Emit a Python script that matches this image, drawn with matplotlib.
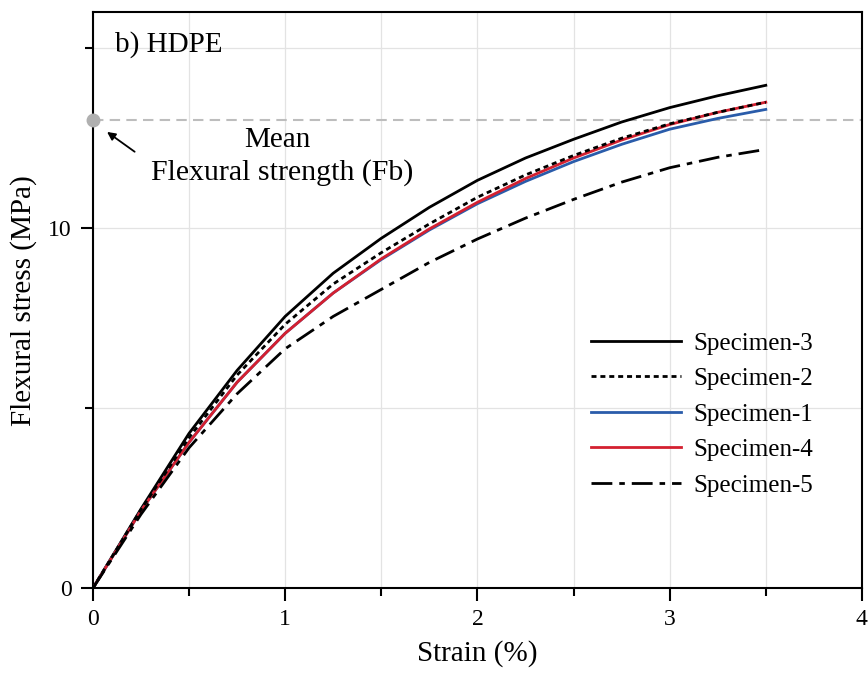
import numpy as np
import matplotlib
matplotlib.use("Agg")
import matplotlib.pyplot as plt
from matplotlib.ticker import MultipleLocator

plt.rcParams["font.family"] = ["Liberation Serif", "DejaVu Serif"]

# ---------------- data ----------------
strain = [0, 0.25, 0.5, 0.75, 1.0, 1.25, 1.5, 1.75, 2.0, 2.25, 2.5, 2.75, 3.0, 3.25, 3.5]

spec3 = [0, 2.2, 4.3, 6.05, 7.55, 8.75, 9.72, 10.58, 11.33, 11.95, 12.47, 12.95, 13.35, 13.68, 13.97]
spec2 = [0, 2.18, 4.18, 5.92, 7.33, 8.45, 9.32, 10.12, 10.86, 11.48, 12.02, 12.5, 12.9, 13.22, 13.5]
spec1 = [0, 2.15, 4.05, 5.72, 7.08, 8.2, 9.13, 9.95, 10.68, 11.3, 11.85, 12.33, 12.75, 13.05, 13.3]
spec4 = [0, 2.15, 4.05, 5.72, 7.08, 8.2, 9.15, 9.98, 10.72, 11.38, 11.95, 12.45, 12.88, 13.22, 13.5]
spec5 = [0, 2.05, 3.9, 5.4, 6.65, 7.55, 8.3, 9.05, 9.7, 10.28, 10.8, 11.28, 11.68, 11.97, 12.19]

mean_fb = 13.0

# ---------------- figure ----------------
fig = plt.figure(figsize=(8.68, 6.80), dpi=100)
ax = fig.add_axes([0.107, 0.135, 0.886, 0.847])

lw = 2.0
ax.axhline(mean_fb, color="#bdbdbd", lw=1.5, linestyle=(0, (5, 3)), zorder=1)
ax.plot([0], [mean_fb], "o", color="#b0b0b0", ms=9, clip_on=False, zorder=5)

ax.plot(strain, spec3, color="black", lw=lw, label="Specimen-3", zorder=3)
ax.plot(strain, spec2, color="black", lw=lw, linestyle=(0, (1.8, 1.4)),
        label="Specimen-2", zorder=4)
ax.plot(strain, spec1, color="#2a5caa", lw=lw, label="Specimen-1", zorder=3)
ax.plot(strain, spec4, color="#d42030", lw=lw, label="Specimen-4", zorder=3)
ax.plot(strain, spec5, color="black", lw=lw, linestyle=(0, (7.5, 2.5, 2, 2.5)),
        label="Specimen-5", zorder=3)

ax.set_xlim(0, 4)
ax.set_ylim(0, 16)
ax.xaxis.set_major_locator(MultipleLocator(1))
ax.xaxis.set_minor_locator(MultipleLocator(0.5))
ax.yaxis.set_major_locator(MultipleLocator(10))
ax.yaxis.set_minor_locator(MultipleLocator(5))

ax.grid(which="both", color="#e3e3e3", lw=0.9, zorder=0)
ax.set_axisbelow(True)

for s in ax.spines.values():
    s.set_linewidth(1.5)
ax.tick_params(which="major", direction="out", length=9, width=1.5,
               labelsize=17, pad=6)
ax.tick_params(which="minor", direction="out", length=5.5, width=1.5)

ax.set_xlabel("Strain (%)", fontsize=21, labelpad=7)
ax.set_ylabel("Flexural stress (MPa)", fontsize=21, labelpad=8)

ax.text(0.115, 15.1, "b) HDPE", fontsize=21, va="center", ha="left")

ax.annotate("", xy=(0.062, 12.72), xytext=(0.229, 12.08),
            arrowprops=dict(arrowstyle="-|>", color="black", lw=1.3,
                            mutation_scale=12))
ax.text(0.96, 12.45, "Mean", fontsize=21, ha="center", va="center")
ax.text(0.985, 11.55, "Flexural strength (Fb)", fontsize=21.5,
        ha="center", va="center")

leg = ax.legend(loc="lower right", bbox_to_anchor=(0.966, 0.12), frameon=False,
                fontsize=18, handlelength=3.6, handletextpad=0.5,
                labelspacing=0.52)

fig.savefig("out.png", dpi=100)
